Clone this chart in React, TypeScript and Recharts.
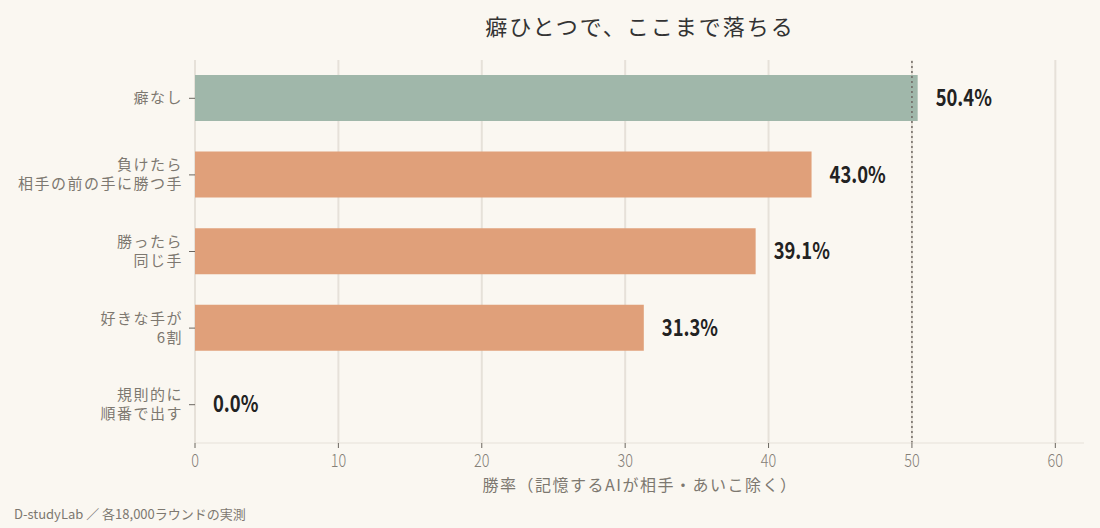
import { BarChart, Bar, XAxis, YAxis, CartesianGrid, ReferenceLine, Cell, LabelList } from 'recharts'

const CATEGORIES = ['癖なし', '負けたら\n相手の前の手に勝つ手', '勝ったら\n同じ手', '好きな手が\n6割', '規則的に\n順番で出す']
const WIN_RATES = [50.4, 43.0, 39.1, 31.3, 0.0]
const X_TICKS = [0, 10, 20, 30, 40, 50, 60]

const BG = '#faf7f1'
const GREEN = '#a0b7aa'
const ORANGE = '#e0a07a'
const GRID = '#e6e1d9'
const TEXT = '#7d7870'
const FONT = '"Noto Sans CJK JP", sans-serif'

const data = CATEGORIES.map((name, i) => ({ name, value: WIN_RATES[i] }))

function CategoryTick({ x, y, payload }: any) {
  const lines = String(payload.value).split('\n')
  const lh = 19
  const start = -((lines.length - 1) * lh) / 2
  return (
    <text x={x - 4} y={y} textAnchor="end" fill={TEXT} fontSize={15} letterSpacing={1.5} fontFamily={FONT}>
      {lines.map((l, i) => (
        <tspan key={i} x={x - 4} dy={i === 0 ? start + 5 : lh}>{l}</tspan>
      ))}
    </text>
  )
}

// condensed look: squeeze horizontally around the anchor
function NumberTick({ x, y, payload }: any) {
  return (
    <g transform={`translate(${x},${y + 17}) scale(0.78,1)`}>
      <text x={0} y={0} textAnchor="middle" fill="#858078" fontSize={18.5} fontWeight={300} fontFamily={FONT}>{payload.value}</text>
    </g>
  )
}

function ValueLabel({ x, y, width, height, value }: any) {
  return (
    <g transform={`translate(${x + width + 18},${y + height / 2 + 8}) scale(0.8,1)`}>
      <text x={0} y={0} fill="#222" fontSize={23} fontWeight={700} fontFamily={FONT}>
        {Number(value).toFixed(1)}%
      </text>
    </g>
  )
}

export default function App() {
  return (
    <div style={{ position: 'fixed', left: 0, top: 0, width: 1100, height: 528, background: BG }}>
      <svg style={{ position: 'absolute', left: 0, top: 0 }} width={1100} height={528}>
        <text x={640} y={35} textAnchor="middle" fill="#333" fontSize={22} letterSpacing={2} fontFamily={FONT}>癖ひとつで、ここまで落ちる</text>
        <text x={640} y={491} textAnchor="middle" fill={TEXT} fontSize={16} letterSpacing={1.5} fontFamily={FONT}>勝率（記憶するAIが相手・あいこ除く）</text>
        <text x={14} y={519} fill={TEXT} fontSize={13} fontFamily={FONT}>D-studyLab ／ 各18,000ラウンドの実測</text>
      </svg>
      <div style={{ position: 'absolute', left: 0, top: 0 }}>
        <BarChart
          width={1100}
          height={528}
          data={data}
          layout="vertical"
          margin={{ top: 60, right: 16, bottom: 35, left: 0 }}
        >
          <CartesianGrid horizontal={false} verticalValues={X_TICKS} stroke={GRID} strokeWidth={2} />
          <XAxis
            type="number"
            domain={[0, 62]}
            ticks={X_TICKS}
            height={50}
            stroke={GRID}
            tickLine={{ stroke: '#6b665f' }}
            tickSize={5}
            tick={<NumberTick />}
          />
          <YAxis
            type="category"
            dataKey="name"
            width={195}
            axisLine={false}
            tickLine={{ stroke: '#6b665f' }}
            tickSize={6}
            tick={<CategoryTick />}
          />
          <ReferenceLine x={50} stroke="#6f6a64" strokeDasharray="2 3" strokeWidth={1.5} />
          <Bar dataKey="value" barSize={46} minPointSize={0.01} isAnimationActive={false}>
            {data.map((d, i) => (
              <Cell key={d.name} fill={i === 0 ? GREEN : ORANGE} />
            ))}
            <LabelList dataKey="value" content={<ValueLabel />} />
          </Bar>
        </BarChart>
      </div>
    </div>
  )
}
